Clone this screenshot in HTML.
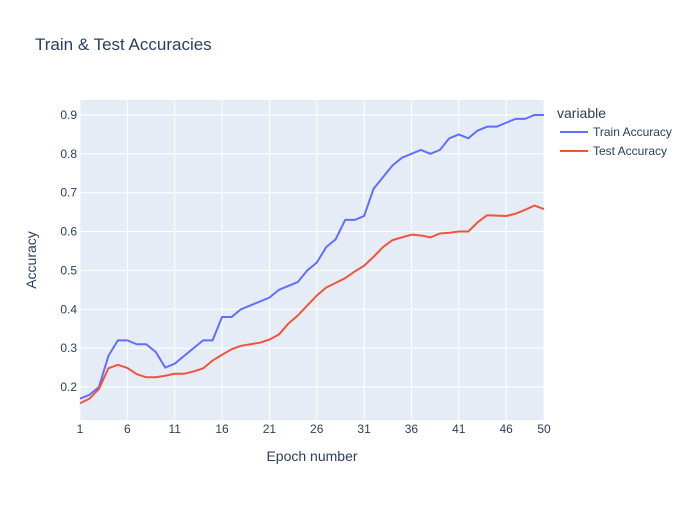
<!DOCTYPE html>
<html><head><meta charset="utf-8"><style>
body{margin:0;background:#fff;font-family:"Liberation Sans",Arial,sans-serif}
</style></head><body>
<svg id="chart" width="700" height="500" xmlns="http://www.w3.org/2000/svg" font-family="Liberation Sans, Arial, sans-serif">
<rect width="700" height="500" fill="#fff"/>
<text x="35" y="50" font-size="17" fill="#2a3f5f">Train &amp; Test Accuracies</text>
<rect x="80" y="100" width="464" height="320" fill="#e5ecf6"/>
<g id="grid"></g>
<g id="lines"></g>
<g id="ticks" font-size="12" fill="#2a3f5f"></g>
<text x="312" y="461" font-size="14" fill="#2a3f5f" text-anchor="middle">Epoch number</text>
<text transform="translate(36,260) rotate(-90)" font-size="14" fill="#2a3f5f" text-anchor="middle">Accuracy</text>
<g>
<text x="557" y="118" font-size="14" fill="#2a3f5f">variable</text>
<g><line x1="560" y1="132" x2="588" y2="132" stroke="#636efa" stroke-width="2"/><text x="593" y="136" font-size="12" fill="#2a3f5f">Train Accuracy</text></g>
<g><line x1="560" y1="151" x2="588" y2="151" stroke="#ef553b" stroke-width="2"/><text x="593" y="155" font-size="12" fill="#2a3f5f">Test Accuracy</text></g>
</g>
</svg>
<script>
const epochs=[];for(let i=1;i<=50;i++)epochs.push(i);
const trainAcc=[0.17,0.18,0.20,0.28,0.32,0.32,0.31,0.31,0.29,0.25,0.26,0.28,0.30,0.32,0.32,0.38,0.38,0.40,0.41,0.42,0.43,0.45,0.46,0.47,0.50,0.52,0.56,0.58,0.63,0.63,0.64,0.71,0.74,0.77,0.79,0.80,0.81,0.80,0.81,0.84,0.85,0.84,0.86,0.87,0.87,0.88,0.89,0.89,0.90,0.90];
const testAcc=[0.158,0.17,0.195,0.248,0.257,0.249,0.233,0.225,0.225,0.229,0.234,0.234,0.24,0.248,0.268,0.283,0.297,0.306,0.31,0.314,0.322,0.335,0.363,0.384,0.41,0.435,0.456,0.468,0.48,0.497,0.512,0.535,0.56,0.578,0.585,0.592,0.59,0.585,0.595,0.597,0.6,0.6,0.624,0.642,0.641,0.64,0.646,0.656,0.667,0.658];
const xTicks=[1,6,11,16,21,26,31,36,41,46,50];
const yTicks=[0.2,0.3,0.4,0.5,0.6,0.7,0.8,0.9];
const NS="http://www.w3.org/2000/svg";
const X=v=>80+(v-1)*(464/49);
const Y=v=>387-(v-0.2)*388.6;
function mk(t,a,p){const e=document.createElementNS(NS,t);for(const k in a)e.setAttribute(k,a[k]);p.appendChild(e);return e;}
const grid=document.getElementById('grid'),ticks=document.getElementById('ticks'),lines=document.getElementById('lines');
xTicks.forEach(t=>{
 const l=mk('line',{x1:X(t),x2:X(t),y1:100,y2:420,stroke:'#fff','stroke-width':1},grid);
 
 
 const tx=mk('text',{x:X(t),y:433,'text-anchor':'middle'},ticks);tx.textContent=t;
 
 
});
yTicks.forEach(t=>{
 const l=mk('line',{x1:80,x2:544,y1:Y(t),y2:Y(t),stroke:'#fff','stroke-width':1},grid);
 
 
 const tx=mk('text',{x:77,y:Y(t)+4,'text-anchor':'end'},ticks);tx.textContent=t.toFixed(1);
 
 
});
function line(vals,color,name){
 const p=mk('polyline',{points:vals.map((v,i)=>X(epochs[i])+','+Y(v)).join(' '),fill:'none',stroke:color,'stroke-width':2,'stroke-linejoin':'round'},lines);
 
 
}
line(trainAcc,'#636efa','train-accuracy-line');
line(testAcc,'#ef553b','test-accuracy-line');
</script>
</body></html>
